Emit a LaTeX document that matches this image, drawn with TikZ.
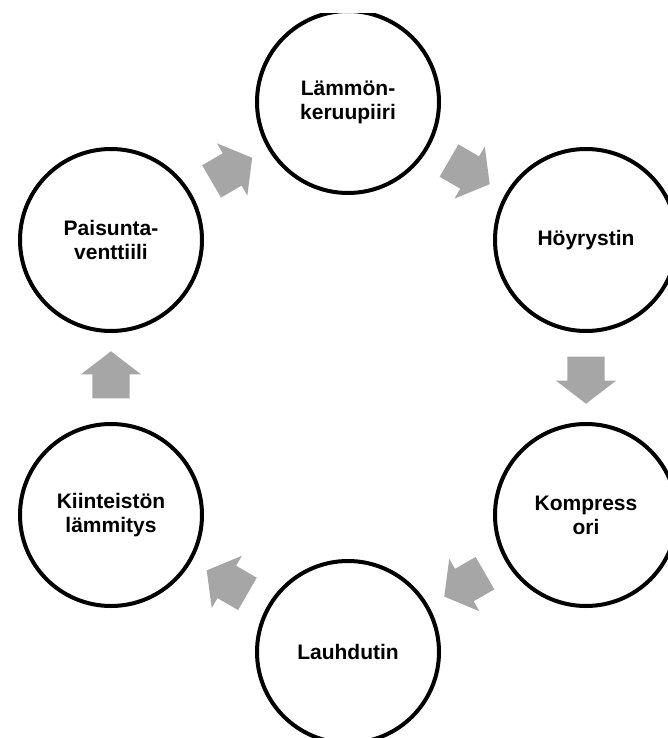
\documentclass[tikz,border=0pt]{standalone}
\usepackage{fontspec}
\setmainfont{Liberation Sans}
\usetikzlibrary{shapes.arrows}
\definecolor{arrowgray}{RGB}{166,166,166}

\begin{document}
\begin{tikzpicture}[x=1pt,y=-1pt,
    stage/.style={anchor=center,circle,draw,line width=4pt,
      minimum size=182pt,inner sep=0pt,align=center,
      font=\fontsize{21}{24}\selectfont\bfseries},
    flowarrow/.style={single arrow,fill=arrowgray,draw=none,
      minimum height=47pt,minimum width=0pt,inner xsep=0pt,
      inner ysep=18.5pt,single arrow head extend=11.5pt,
      single arrow tip angle=105,sloped,allow upside down,pos=0.45}]
    \useasboundingbox (0,0) rectangle (668,738);
    \clip (0,14) rectangle (668,738);

    \node [stage] (keruu) at (348,102) {Lämmön-\\keruupiiri};
    \node [stage] (hoyry) at (586,240) {Höyrystin};
    \node [stage] (kompr) at (586,515) {Kompress\\ori};
    \node [stage] (lauhd) at (348,652) {Lauhdutin};
    \node [stage] (lammit) at (111,515) {Kiinteistön\\lämmitys};
    \node [stage] (paisu) at (111,240) {Paisunta-\\venttiili};

    \path (paisu) -- node [flowarrow] (a1) {} (keruu);
    \path (keruu) -- node [flowarrow] (a2) {} (hoyry);
    \path (hoyry) -- node [flowarrow] (a3) {} (kompr);
    \path (kompr) -- node [flowarrow] (a4) {} (lauhd);
    \path (lauhd) -- node [flowarrow] (a5) {} (lammit);
    \path (lammit) -- node [flowarrow] (a6) {} (paisu);
\end{tikzpicture}
\end{document}
